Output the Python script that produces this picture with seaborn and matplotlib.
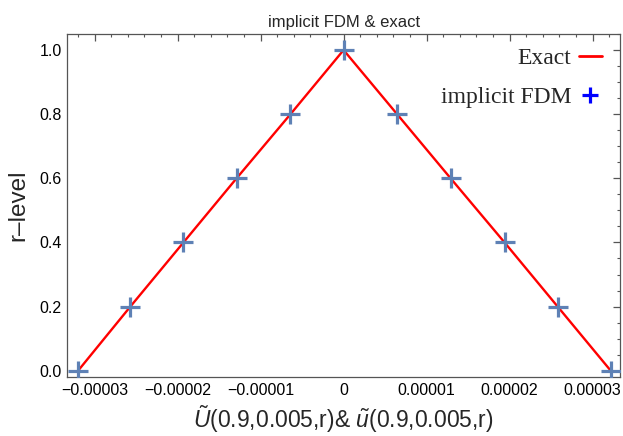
import matplotlib
matplotlib.use('Agg')
import matplotlib.pyplot as plt
from matplotlib.lines import Line2D
from matplotlib.ticker import MultipleLocator
import pandas as pd
import seaborn as sns

# values (x in units of 1, r-level)
x_vals = [-3.20e-5, -2.57e-5, -1.93e-5, -1.29e-5, -0.64e-5, 0.0,
          0.645e-5, 1.29e-5, 1.94e-5, 2.58e-5, 3.22e-5]
r_vals = [0.0, 0.2, 0.4, 0.6, 0.8, 1.0, 0.8, 0.6, 0.4, 0.2, 0.0]

x_ticks = [-3e-5, -2e-5, -1e-5, 0, 1e-5, 2e-5, 3e-5]
x_labels = ['\u22120.00003', '\u22120.00002', '\u22120.00001', '0',
            '0.00001', '0.00002', '0.00003']
y_ticks = [0.0, 0.2, 0.4, 0.6, 0.8, 1.0]
y_labels = ['0.0', '0.2', '0.4', '0.6', '0.8', '1.0']

df = pd.DataFrame({'x': x_vals, 'r': r_vals})

sns.set_style('white')
plt.rcParams['font.family'] = ['Liberation Sans', 'DejaVu Sans']
plt.rcParams['mathtext.fontset'] = 'custom'
plt.rcParams['mathtext.rm'] = 'Liberation Sans'
plt.rcParams['mathtext.it'] = 'Liberation Sans:italic'

fig = plt.figure(figsize=(6.23, 4.36), dpi=100)
ax = fig.add_axes([0.108, 0.135, 0.887, 0.787])

sns.lineplot(x='x', y='r', data=df, ax=ax, sort=False, color='red',
             linewidth=1.7, zorder=2)
sns.scatterplot(x='x', y='r', data=df, ax=ax, marker='+', s=200,
                color='#5E81B5', linewidth=2.3, zorder=3)

ax.set_xlim(-3.33e-5, 3.33e-5)
ax.set_ylim(-0.02, 1.05)
ax.set_xticks(x_ticks)
ax.set_xticklabels(x_labels)
ax.set_yticks(y_ticks)
ax.set_yticklabels(y_labels)
ax.xaxis.set_minor_locator(MultipleLocator(0.2e-5))
ax.yaxis.set_minor_locator(MultipleLocator(0.05))
ax.tick_params(which='both', direction='in', top=True, right=True,
               color='#555555', labelsize=11.5, labelcolor='black', pad=4)
ax.tick_params(which='major', length=5, width=0.9)
ax.tick_params(which='minor', length=2.5, width=0.8)
for s in ax.spines.values():
    s.set_color('#555555')
    s.set_linewidth(0.9)

ax.set_title('implicit FDM & exact', fontsize=12, pad=5)
ax.set_xlabel(r'$\tilde{U}$(0.9,0.005,r)& $\tilde{u}$(0.9,0.005,r)',
              fontsize=16.5, labelpad=4)
ax.set_ylabel('r\u2013level', fontsize=17.5, labelpad=7)

handles = [Line2D([], [], color='red', linewidth=2),
           Line2D([], [], color='blue', linestyle='', marker='+',
                  markersize=12, markeredgewidth=2.3)]
ax.legend(handles, ['Exact', 'implicit FDM'], loc='upper right',
          bbox_to_anchor=(0.968, 0.96), frameon=False, markerfirst=False,
          prop={'family': 'Liberation Serif', 'size': 17},
          handlelength=1.0, handletextpad=0.3, labelspacing=0.72,
          borderpad=0, borderaxespad=0)

fig.savefig('out.png', dpi=100)
